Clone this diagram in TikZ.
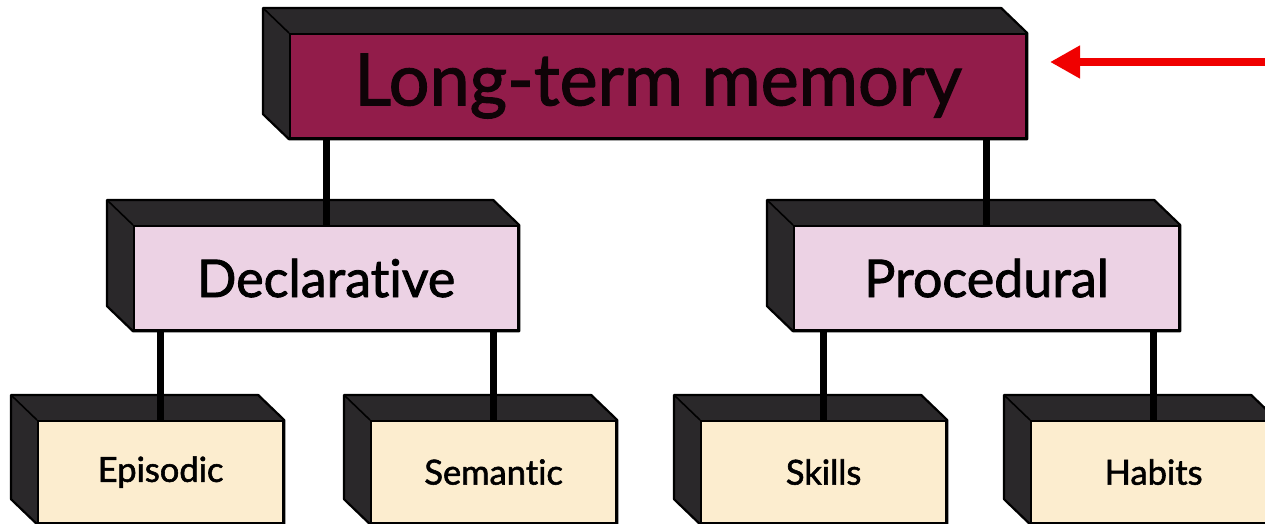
\documentclass[tikz,border=0pt]{standalone}
\usepackage{fontspec}
\setmainfont{Lato}[Ligatures={NoCommon,NoRare}, BoldFont=Lato, BoldFeatures={FakeBold=1.6}]
\usetikzlibrary{calc,backgrounds,arrows.meta}

\definecolor{ltmred}{RGB}{146,28,74}
\definecolor{midpink}{RGB}{236,210,228}
\definecolor{leafcream}{RGB}{252,237,207}
\definecolor{sidedark}{RGB}{42,40,42}
\definecolor{arrowred}{RGB}{240,0,0}

\tikzset{
  face/.style={draw=black, line width=2.2pt, inner sep=0pt, anchor=north west},
  topface/.style={face, fill=ltmred, text=black!90!ltmred, minimum width=736pt, minimum height=104pt,
    font=\bfseries\fontsize{72}{72}\selectfont},
  midface/.style={face, fill=midpink, minimum height=104pt, font=\bfseries\fontsize{52}{52}\selectfont},
  leafface/.style={face, fill=leafcream, minimum width=245pt, minimum height=102pt,
    font=\bfseries\fontsize{34.5}{34.5}\selectfont},
  sideface/.style={fill=sidedark, draw=black, line width=2.2pt, line join=round},
  link/.style={line width=7pt, black},
  pointer/.style={line width=8pt, arrowred, -{Triangle[length=30pt,width=31pt]}}
}

\begin{document}
\begin{tikzpicture}[x=1pt, y=-1pt]
  \useasboundingbox (0,0) rectangle (1265,524);
  \clip (0,0) rectangle (1265,524);

  % front faces of the boxes
  \node[topface] (ltm) at (289,33) {Long-term memory};
  \node[midface, minimum width=384pt] (decl) at (133,225) {Declarative};
  \node[midface, minimum width=385pt] (proc) at (793,225) {Procedural};
  \node[leafface] (epi) at (37,420) {Episodic};
  \node[leafface] (sem) at (370,420) {Semantic};
  \node[leafface] (ski) at (700,420) {Skills};
  \node[leafface] (hab) at (1030,420) {Habits};

  % dark top and left faces behind every box
  \begin{pgfonlayer}{background}
    \foreach \b in {ltm,decl,proc,epi,sem,ski,hab}{
      \draw[sideface]
        ($(\b.north west)+(-26,-25)$) -- ($(\b.north east)+(-26,-25)$)
        -- (\b.north east) -- (\b.south east) -- (\b.south west)
        -- ($(\b.south west)+(-26,-25)$) -- cycle;
      \draw[black, line width=1.6pt] (\b.north west) -- ($(\b.north west)+(-26,-25)$);
    }
  \end{pgfonlayer}

  % tree connectors
  \draw[link] (ltm.south -| decl.north) -- (decl.north);
  \draw[link] (ltm.south -| proc.north) -- (proc.north);
  \draw[link] (decl.south -| epi.north) -- (epi.north);
  \draw[link] (decl.south -| sem.north) -- (sem.north);
  \draw[link] (proc.south -| ski.north) -- (ski.north);
  \draw[link] (proc.south -| hab.north) -- (hab.north);

  % red pointer
  \coordinate (tail) at (1265,62);
  \coordinate (tip) at (1050,62);
  \draw[pointer] (tail) -- (tip);
\end{tikzpicture}
\end{document}
